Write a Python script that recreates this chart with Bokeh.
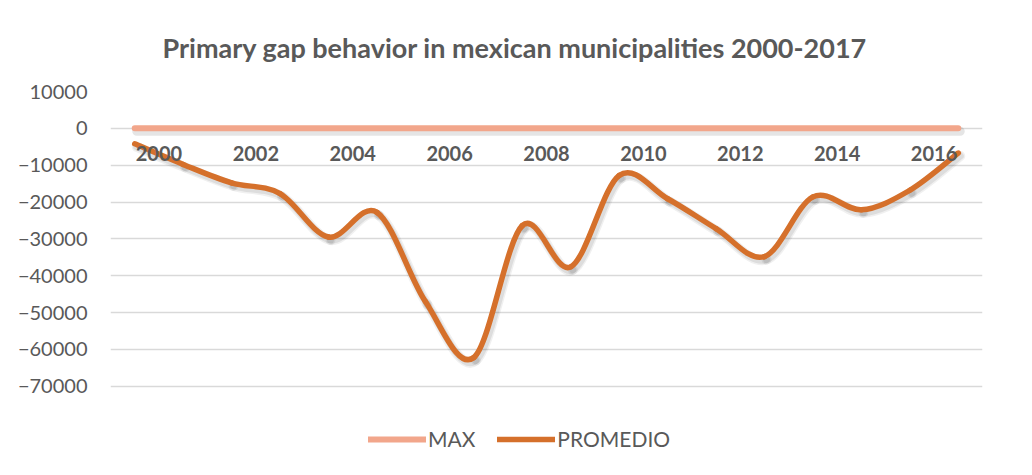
from bokeh.plotting import figure
from bokeh.models import Range1d, FixedTicker, Legend, LegendItem, Title, ColumnDataSource
from bokeh.core.properties import value
from bokeh.embed import file_html
from bokeh.resources import INLINE

years = list(range(2000, 2018))
max_vals = [0] * 18
promedio = [-4200, -9800, -14800, -17700, -29500, -22800, -47000, -62200, -26400,
            -37600, -12800, -19100, -27200, -34800, -18600, -22100, -16800, -6700]
xlabels = ["2000", "2002", "2004", "2006", "2008", "2010", "2012", "2014", "2016"]
yticks = [10000, 0, -10000, -20000, -30000, -40000, -50000, -60000, -70000]
title_text = "Primary gap behavior in mexican municipalities 2000-2017"

FONT = "Lato"
GREY = "#595959"
C_MAX = "#F2A68B"
C_PROM = "#D5702B"

p = figure(width=1032, height=475, output_backend="svg", toolbar_location=None,
           x_range=Range1d(1999.5, 2017.5), y_range=Range1d(-91500, 10000),
           min_border_left=110, min_border_right=50, min_border_top=91, min_border_bottom=10)
p.outline_line_color = None
p.background_fill_color = "white"
p.border_fill_color = "white"

# axes
p.xaxis.visible = False
p.yaxis.ticker = FixedTicker(ticks=yticks)
p.yaxis.axis_line_color = None
p.yaxis.major_tick_line_color = None
p.yaxis.minor_tick_line_color = None
p.yaxis.major_label_standoff = 17
p.yaxis.major_label_text_font = FONT
p.yaxis.major_label_text_font_size = "20px"
p.yaxis.major_label_text_color = GREY
p.xgrid.visible = False
p.ygrid.ticker = FixedTicker(ticks=yticks)
p.ygrid.grid_line_color = "#d9d9d9"
p.ygrid.grid_line_width = 1.5

# title
p.title = Title(text=title_text, align="left", text_font=FONT, text_font_size="27px",
                text_font_style="bold", text_color=GREY, offset=52, standoff=55)


def bez(xs, ys):
    n = len(xs)
    X0, Y0, X1, Y1, CX0, CY0, CX1, CY1 = [], [], [], [], [], [], [], []
    for i in range(n - 1):
        xm = xs[i - 1] if i > 0 else xs[i]
        ym = ys[i - 1] if i > 0 else ys[i]
        xp = xs[i + 2] if i + 2 < n else xs[i + 1]
        yp = ys[i + 2] if i + 2 < n else ys[i + 1]
        X0.append(xs[i]); Y0.append(ys[i]); X1.append(xs[i + 1]); Y1.append(ys[i + 1])
        CX0.append(xs[i] + (xs[i + 1] - xm) / 6.0)
        CY0.append(ys[i] + (ys[i + 1] - ym) / 6.0)
        CX1.append(xs[i + 1] - (xp - xs[i]) / 6.0)
        CY1.append(ys[i + 1] - (yp - ys[i]) / 6.0)
    return dict(x0=X0, y0=Y0, x1=X1, y1=Y1, cx0=CX0, cy0=CY0, cx1=CX1, cy1=CY1)


# soft shadows (offset a few pixels down-right)
px_x = 1.0 / 48.44
px_y = 80000.0 / 295.0
sx = [x + 2 * px_x for x in years]
p.line(sx, [v - 3 * px_y for v in max_vals], line_color="black", line_alpha=0.10,
       line_width=9, line_cap="round")
sh = bez(sx, [v - 3 * px_y for v in promedio])
shsrc = ColumnDataSource(sh)
for w, a in ((10, 0.06), (7, 0.08)):
    p.bezier(line_color="black", line_alpha=a, line_width=w, line_cap="round",
             source=shsrc, x0="x0", y0="y0", x1="x1", y1="y1",
             cx0="cx0", cy0="cy0", cx1="cx1", cy1="cy1")

r_max = p.line(years, max_vals, line_color=C_MAX, line_width=6, line_cap="round")
pb = bez(years, promedio)
r_prom = p.bezier(line_color=C_PROM, line_width=5.5, line_cap="round",
                  source=ColumnDataSource(pb), x0="x0", y0="y0", x1="x1", y1="y1",
                  cx0="cx0", cy0="cy0", cx1="cx1", cy1="cy1")

# category labels along the zero line, each spanning two years
lx = [int(s) + 0.5 for s in xlabels]
p.text(x=lx, y=[0] * len(lx), text=xlabels, text_font=value(FONT), text_font_size="20px",
       text_font_style="bold", text_color=GREY, text_align="center",
       text_baseline="alphabetic", y_offset=25)

legend = Legend(items=[LegendItem(label="MAX", renderers=[r_max]),
                       LegendItem(label="PROMEDIO", renderers=[r_prom])],
                orientation="horizontal", location=(258, 14),
                label_text_font=FONT, label_text_font_size="21px", label_text_color=GREY,
                glyph_width=58, glyph_height=20, label_standoff=2, spacing=22,
                border_line_color=None, background_fill_alpha=0, margin=0, padding=4)
p.add_layout(legend, "center")

open("out.html", "w").write(file_html(p, INLINE))
